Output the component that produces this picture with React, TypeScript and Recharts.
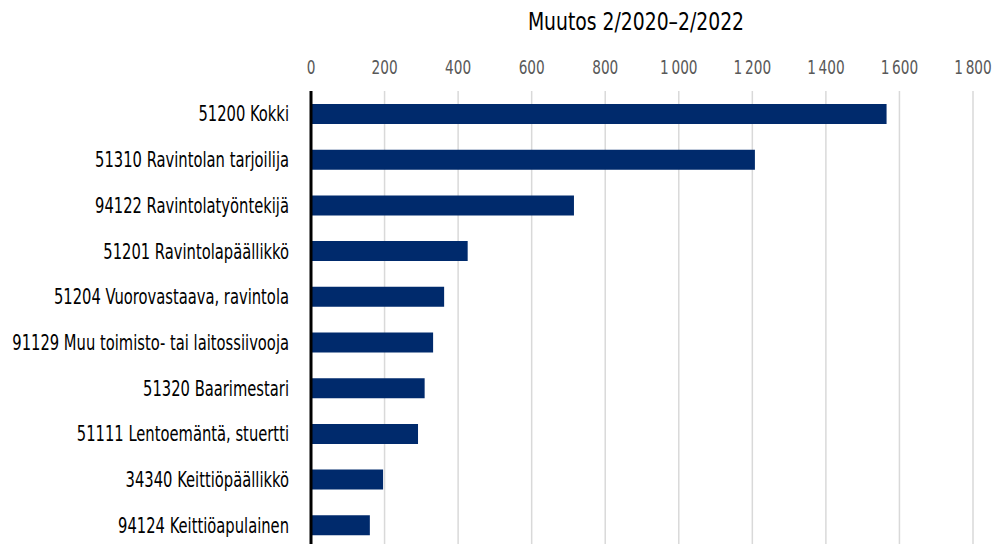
import React from "react";
import { BarChart, Bar, XAxis, YAxis, CartesianGrid } from "recharts";

// ======================
// Data
// ======================
const occupations = [
  "51200 Kokki",
  "51310 Ravintolan tarjoilija",
  "94122 Ravintolatyöntekijä",
  "51201 Ravintolapäällikkö",
  "51204 Vuorovastaava, ravintola",
  "91129 Muu toimisto- tai laitossiivooja",
  "51320 Baarimestari",
  "51111 Lentoemäntä, stuertti",
  "34340 Keittiöpäällikkö",
  "94124 Keittiöapulainen",
];
const changes = [1565, 1207, 715, 426, 362, 332, 309, 291, 196, 160];
const xTicks = [0, 200, 400, 600, 800, 1000, 1200, 1400, 1600, 1800];

// no narrow font installed, so condensed DejaVu gets squeezed a bit more
const FONT = "'DejaVu Sans Condensed', 'DejaVu Sans', sans-serif";
const BAR_COLOR = "#002a6c";

const data = occupations.map((name, i) => ({ name, value: changes[i] }));

// "1 000" style thousands separator
const fmt = (v: number) => String(v).replace(/\B(?=(\d{3})+(?!\d))/g, "\u2009");

const XTick = (props: any) => {
  const { x, y, payload } = props;
  return (
    <text
      transform={`translate(${x},${y - 1}) scale(0.76,1)`}
      textAnchor="middle"
      fill="#595959"
      fontSize={20}
      fontFamily={FONT}
    >
      {fmt(payload.value)}
    </text>
  );
};

const YTick = (props: any) => {
  const { x, y, payload } = props;
  return (
    <text
      transform={`translate(${x},${y}) scale(0.78,1)`}
      textAnchor="end"
      dy="0.36em"
      fill="#000"
      fontSize={21}
      fontFamily={FONT}
    >
      {payload.value}
    </text>
  );
};

export default function App() {
  return (
    <div style={{ position: "absolute", left: 0, top: 0, width: 997, height: 544, overflow: "hidden", fontFamily: FONT }}>
      <div
        style={{
          position: "absolute",
          left: 305,
          width: 662,
          top: 4,
          lineHeight: "36px",
          textAlign: "center",
          fontSize: 24,
          color: "#000",
          transform: "scaleX(0.87)",
        }}
      >
        Muutos 2/2020–2/2022
      </div>
      <BarChart
        width={997}
        height={548}
        data={data}
        layout="vertical"
        margin={{ top: 0, right: 24, bottom: 0, left: 0 }}
        barSize={20}
      >
        <CartesianGrid horizontal={false} stroke="#d9d9d9" strokeWidth={1.5} />
        <XAxis
          type="number"
          orientation="top"
          domain={[0, 1800]}
          ticks={xTicks}
          axisLine={false}
          tickLine={false}
          tickSize={0}
          tickMargin={16}
          height={91}
          tick={<XTick />}
        />
        <YAxis
          type="category"
          dataKey="name"
          width={311}
          axisLine={{ stroke: "#000", strokeWidth: 3 }}
          tickLine={false}
          tickSize={0}
          tickMargin={22}
          tick={<YTick />}
        />
        <Bar dataKey="value" fill={BAR_COLOR} isAnimationActive={false} />
      </BarChart>
    </div>
  );
}
